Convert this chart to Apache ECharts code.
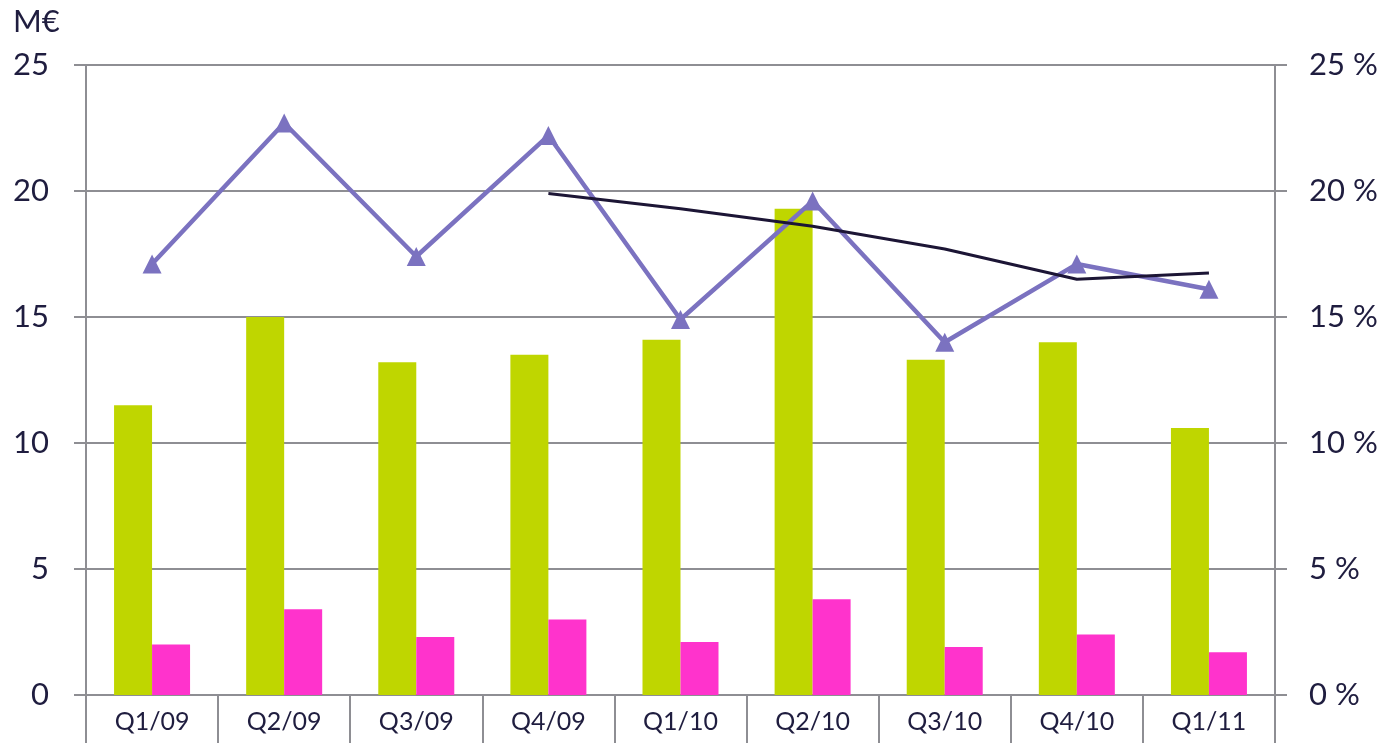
<!DOCTYPE html>
<html>
<head>
<meta charset="utf-8">
<script src="https://cdn.jsdelivr.net/npm/echarts@6/dist/echarts.min.js"></script>
<style>
html,body{margin:0;padding:0;background:#fff;}
#chart{width:1387px;height:743px;}
</style>
</head>
<body>
<div id="chart"></div>
<script>
var categories = ['Q1/09','Q2/09','Q3/09','Q4/09','Q1/10','Q2/10','Q3/10','Q4/10','Q1/11'];
var greenBars = [11.5, 15.0, 13.2, 13.5, 14.1, 19.3, 13.3, 14.0, 10.6];
var pinkBars = [2.0, 3.4, 2.3, 3.0, 2.1, 3.8, 1.9, 2.4, 1.7];
var purplePct = [17.1, 22.7, 17.4, 22.2, 14.9, 19.6, 14.0, 17.1, 16.1];
var blackPct = ['-', '-', '-', 19.9, 19.3, 18.6, 17.7, 16.5, 16.75];
var leftTicks = [0, 5, 10, 15, 20, 25];

var textColor = '#1f1d3f';
var gridColor = '#8e8e93';
var font = 'Lato, "Liberation Sans", sans-serif';

var chart = echarts.init(document.getElementById('chart'));
chart.setOption({
  animation: false,
  graphic: [{
    type: 'text', left: 13, top: 6,
    style: { text: 'M€', fill: textColor, font: '31px ' + font }
  }],
  grid: { left: 86, right: 112, top: 65, bottom: 48, containLabel: false },
  xAxis: {
    type: 'category',
    data: categories,
    boundaryGap: true,
    axisLine: { show: true, lineStyle: { color: gridColor, width: 2 } },
    axisTick: { show: true, length: 50, lineStyle: { color: gridColor, width: 2 } },
    axisLabel: { color: textColor, fontSize: 25, fontFamily: font, margin: 14 }
  },
  yAxis: [{
    type: 'value', min: leftTicks[0], max: leftTicks[leftTicks.length - 1], interval: 5,
    axisLine: { show: true, lineStyle: { color: gridColor, width: 2 } },
    axisTick: { show: true, length: 12, lineStyle: { color: gridColor, width: 2 } },
    splitLine: { show: true, lineStyle: { color: gridColor, width: 2 } },
    axisLabel: { color: textColor, fontSize: 31, fontFamily: font, margin: 37 }
  }, {
    type: 'value', min: 0, max: 25, interval: 5, position: 'right',
    axisLine: { show: true, lineStyle: { color: gridColor, width: 2 } },
    axisTick: { show: true, length: 12, lineStyle: { color: gridColor, width: 2 } },
    splitLine: { show: false },
    axisLabel: { color: textColor, fontSize: 31, fontFamily: font, margin: 34, formatter: '{value} %' }
  }],
  series: [{
    type: 'bar', data: greenBars, barWidth: 38, barGap: '0%',
    itemStyle: { color: '#bfd600' }
  }, {
    type: 'bar', data: pinkBars, barWidth: 38, barGap: '0%',
    itemStyle: { color: '#ff33cc' }
  }, {
    type: 'line', yAxisIndex: 1, data: purplePct,
    symbol: 'triangle', symbolSize: 19,
    lineStyle: { color: '#7b72c0', width: 4.5 },
    itemStyle: { color: '#7b72c0' }
  }, {
    type: 'line', yAxisIndex: 1, data: blackPct,
    showSymbol: false, symbol: 'none',
    lineStyle: { color: '#1c1535', width: 3 },
    itemStyle: { color: '#1c1535' },
    z: 3
  }]
});
</script>
</body>
</html>
